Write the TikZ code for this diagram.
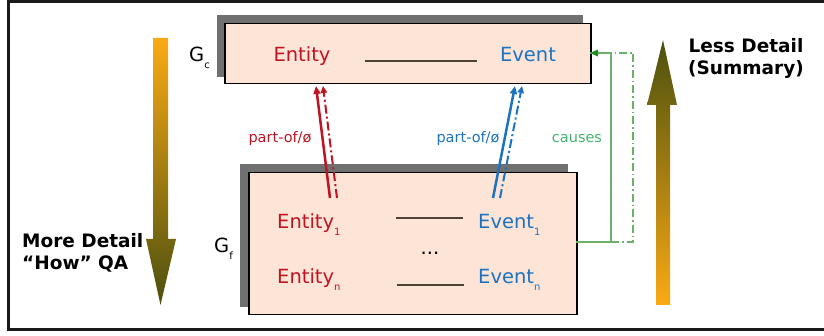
\documentclass[tikz,border=0pt]{standalone}
\usepackage{fontspec}
\setmainfont{DejaVu Sans}
\usetikzlibrary{arrows.meta}
\definecolor{peach}{RGB}{252,228,214}
\definecolor{shadowgray}{RGB}{112,112,112}
\definecolor{entred}{RGB}{192,20,35}
\definecolor{evblue}{RGB}{30,115,192}
\definecolor{causegreen}{RGB}{70,180,110}
\definecolor{lightgreen}{RGB}{110,175,110}
\definecolor{darkgreen}{RGB}{30,140,30}
\definecolor{linebrown}{RGB}{80,65,55}
\definecolor{arrorange}{RGB}{250,170,20}
\definecolor{arrolive}{RGB}{75,80,15}
\newcommand{\subsc}[1]{\raisebox{-0.35em}{\fontsize{10}{10}\selectfont #1}}
\begin{document}
\begin{tikzpicture}[x=1pt,y=-1pt,
  shadowbox/.style={fill=shadowgray, draw=none, inner sep=0pt, anchor=north west},
  gbox/.style={fill=peach, draw=black, line width=1.5pt, inner sep=0pt, anchor=north west},
  lbl/.style={inner sep=0pt, anchor=base, font=\fontsize{19.5}{20}\selectfont},
  smalllbl/.style={inner sep=0pt, anchor=base, font=\fontsize{14.5}{15}\selectfont},
  boldlbl/.style={inner sep=0pt, font=\fontsize{18.5}{19}\selectfont\bfseries},
  sepline/.style={draw=linebrown, line width=1.3pt},
  solidarr/.style={line width=2.5pt, -{Triangle[width=7pt,length=8pt]}},
  dotarr/.style={line width=2pt, dash pattern=on 9pt off 3pt on 2pt off 3pt, -{Triangle[width=6.5pt,length=7pt]}},
  greenline/.style={draw=lightgreen, line width=1.3pt}
]
\useasboundingbox (0,0) rectangle (824,336);
% frame
\draw[line width=3pt, black!90] (824,1.5) -- (8.5,1.5) -- (8.5,330) -- (824,330);

% big gradient arrows
\shade[top color=arrorange, bottom color=arrolive]
  (153,38) -- (168,38) -- (168,239) -- (176,239) -- (160.5,305) -- (146,239) -- (153,239) -- cycle;
\shade[top color=arrolive, bottom color=arrorange]
  (656,305) -- (670,305) -- (670,105) -- (677,105) -- (663,40) -- (647,105) -- (656,105) -- cycle;

\node[boldlbl, anchor=base west] (more) at (22,248) {More Detail};
\node[boldlbl, anchor=base west] (how) at (22,270) {“How” QA};
\node[boldlbl, anchor=base] (less) at (746,53) {Less Detail};
\node[boldlbl, anchor=base] (summ) at (746,75) {(Summary)};

% top box Gc
\node[shadowbox, minimum width=366pt, minimum height=62pt] (gcs) at (217,15) {};
\node[gbox, minimum width=366pt, minimum height=60pt] (gc) at (224,23) {};
\node[lbl, anchor=base west] (gclab) at (189,62) {G\subsc{c}};
\node[lbl, text=entred] (ent) at (302,62) {Entity};
\node[lbl, text=evblue] (evt) at (528,62) {Event};
\coordinate (sa) at (365,61);
\coordinate (sb) at (477,61);
\draw[sepline] (sa) -- (sb);

% bottom box Gf
\node[shadowbox, minimum width=328pt, minimum height=143pt] (gfs) at (240,164) {};
\node[gbox, minimum width=328pt, minimum height=142pt] (gf) at (248,172) {};
\node[lbl, anchor=base west] (gflab) at (214,253) {G\subsc{f}};
\node[lbl, text=entred, anchor=base west] (ent1) at (277,229) {Entity\subsc{1}};
\node[lbl, text=evblue, anchor=base west] (evt1) at (478,229) {Event\subsc{1}};
\node[lbl, text=entred, anchor=base west] (entn) at (277,284) {Entity\subsc{n}};
\node[lbl, text=evblue, anchor=base west] (evtn) at (478,284) {Event\subsc{n}};
\node[lbl] (dots) at (430,255) {...};
\coordinate (s1a) at (396,218);
\coordinate (s1b) at (463,218);
\coordinate (sna) at (397,285);
\coordinate (snb) at (464,285);
\draw[sepline] (s1a) -- (s1b);
\draw[sepline] (sna) -- (snb);

% part-of arrows
\coordinate (r1s) at (330,198); \coordinate (r1e) at (316,86);
\coordinate (r2s) at (337,198); \coordinate (r2e) at (323,86);
\coordinate (b1s) at (493,198); \coordinate (b1e) at (515,86);
\coordinate (b2s) at (500,198); \coordinate (b2e) at (522,86);
\draw[solidarr, entred] (r1s) -- (r1e);
\draw[dotarr, entred] (r2s) -- (r2e);
\draw[solidarr, evblue] (b1s) -- (b1e);
\draw[dotarr, evblue] (b2s) -- (b2e);
\node[smalllbl, text=entred] (pr) at (280,143) {part-of/ø};
\node[smalllbl, text=evblue] (pb) at (468,143) {part-of/ø};

% causes connectors
\coordinate (g0) at (576,242);
\coordinate (g1) at (611,242);
\coordinate (g2) at (611,53);
\coordinate (g3) at (590,53);
\coordinate (g4) at (633,242);
\coordinate (g5) at (633,53);
\draw[greenline, dash pattern=on 8pt off 3pt on 1.5pt off 3pt] (g1) -- (g4) -- (g5) -- (g2);
\draw[greenline] (g0) -- (g1) -- (g2) -- (g3);
\fill[darkgreen] (g3) -- ++(8,-3.5) -- ++(0,7) -- cycle;
\node[smalllbl, text=causegreen] (cs) at (577,143) {causes};
\end{tikzpicture}
\end{document}
